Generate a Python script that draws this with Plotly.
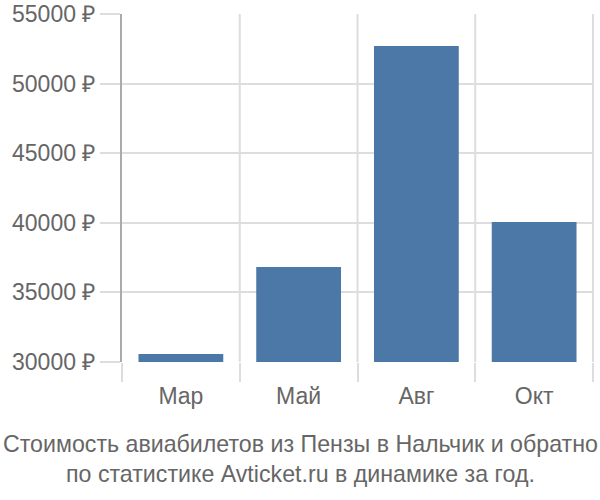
import plotly.graph_objects as go

months = ["Мар", "Май", "Авг", "Окт"]
prices = [30570, 36830, 52700, 40050]
y_ticks = [30000, 35000, 40000, 45000, 50000, 55000]
y_tick_labels = ["%d ₽" % v for v in y_ticks]
title_text = "Стоимость авиабилетов из Пензы в Нальчик и обратно<br>по статистике Avticket.ru в динамике за год."

fig = go.Figure()
fig.add_trace(go.Bar(x=months, y=prices, marker_color="#4c78a8",
                     marker_line_width=0, width=0.72))

fig.update_layout(
    width=600, height=500,
    margin=dict(l=122, r=6, t=14, b=138),
    plot_bgcolor="white", paper_bgcolor="white",
    font=dict(family="Liberation Sans, Arial, sans-serif", size=23, color="#666666"),
    showlegend=False,
)
fig.update_xaxes(
    showgrid=False, tickson="boundaries", ticks="outside", ticklen=19,
    tickcolor="#dddddd", tickwidth=2, showline=False, zeroline=False,
    ticklabelstandoff=18, automargin=False,
)
fig.update_yaxes(
    range=[30000, 55000], tickvals=y_ticks, ticktext=y_tick_labels,
    showgrid=True, gridcolor="#dddddd", gridwidth=2,
    ticks="outside", ticklen=20, tickcolor="#dddddd", tickwidth=2,
    showline=True, linecolor="#aaaaaa", linewidth=2, zeroline=False,
    automargin=False,
)
# vertical lines at the category boundaries
for xb in [0.5, 1.5, 2.5, 3.5]:
    fig.add_shape(type="line", xref="x", yref="paper", x0=xb, x1=xb, y0=0, y1=1,
                  line=dict(color="#dddddd", width=2), layer="below")

# caption under the chart, centred on the page
fig.add_annotation(text=title_text, xref="paper", yref="paper",
                   x=(300 - 122) / 472, y=-0.192,
                   xanchor="center", yanchor="top", showarrow=False,
                   font=dict(size=23.2, color="#666666"))

# no page margin, so the figure fills the window
fig.write_html("out.html", config={"displayModeBar": False},
               post_script="document.body.style.margin = '0';")
